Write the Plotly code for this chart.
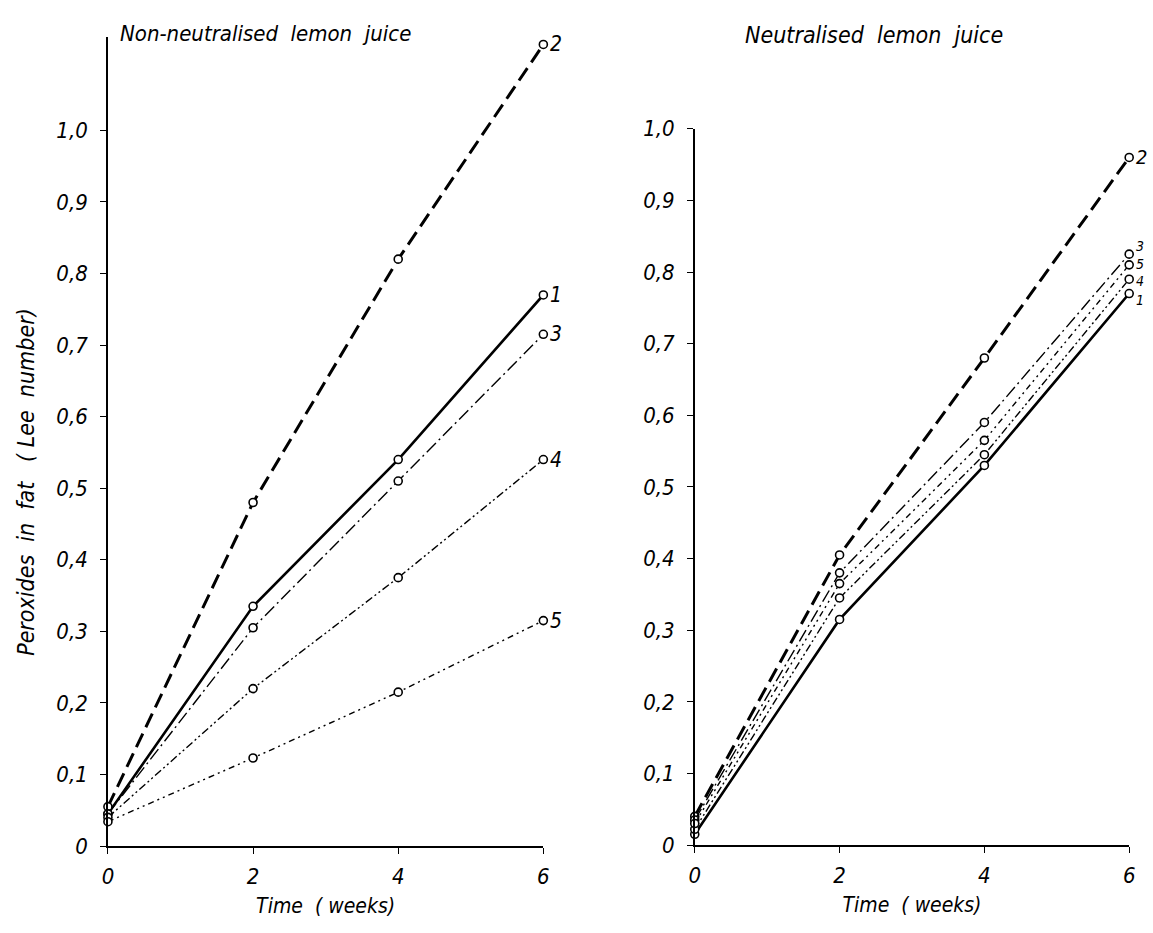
import plotly.graph_objects as go

weeks = [0, 2, 4, 6]

# Non-neutralised lemon juice (left panel)
left_1 = [0.045, 0.335, 0.54, 0.77]
left_2 = [0.055, 0.48, 0.82, 1.12]
left_3 = [0.045, 0.305, 0.51, 0.715]
left_4 = [0.04, 0.22, 0.375, 0.54]
left_5 = [0.034, 0.123, 0.215, 0.315]

# Neutralised lemon juice (right panel)
right_1 = [0.015, 0.315, 0.53, 0.77]
right_2 = [0.04, 0.405, 0.68, 0.96]
right_3 = [0.035, 0.38, 0.59, 0.825]
right_4 = [0.022, 0.345, 0.545, 0.79]
right_5 = [0.03, 0.365, 0.565, 0.81]

series_names = ["1", "2", "3", "4", "5"]

y_tickvals = [0, 0.1, 0.2, 0.3, 0.4, 0.5, 0.6, 0.7, 0.8, 0.9, 1.0]
y_ticktext = ["0", "0,1", "0,2", "0,3", "0,4", "0,5", "0,6", "0,7", "0,8", "0,9", "1,0"]
x_tickvals = [0, 2, 4, 6]
x_ticktext = ["0", "2", "4", "6"]

FONT = "DejaVu Sans Condensed, Liberation Sans Narrow, Arial Narrow, sans-serif"

styles = {
    "1": dict(width=2.6, dash="solid"),
    "2": dict(width=3.0, dash="15px,7px"),
    "3": dict(width=1.4, dash="13px,4px,2px,4px"),
    "4": dict(width=1.4, dash="8px,3px,2px,3px,2px,3px"),
    "5": dict(width=1.4, dash="6px,4px,2px,4px,2px,4px"),
}

# label sizes and vertical nudges (pixels) for the crowded end labels of the right panel
right_label_size = {"1": 14, "2": 20, "3": 14, "4": 14, "5": 14}
right_label_shift = {"1": -6, "2": 0, "3": 8, "4": -2, "5": 1}

fig = go.Figure()
annotations = []

def add_series(values, name, xa, ya, label_size, yshift):
    fig.add_trace(go.Scatter(
        x=weeks, y=values, mode="lines+markers",
        line=dict(color="black", **styles[name]),
        marker=dict(symbol="circle", size=8, color="white",
                    line=dict(color="black", width=1.6)),
        cliponaxis=False, showlegend=False, xaxis=xa, yaxis=ya,
    ))
    annotations.append(dict(
        text=name, x=weeks[-1], y=values[-1], xref=xa, yref=ya,
        xanchor="left", yanchor="middle", xshift=6, yshift=yshift, showarrow=False,
        borderpad=0,
        font=dict(family=FONT, size=label_size, color="black", style="italic"),
    ))

left = [left_1, left_2, left_3, left_4, left_5]
right = [right_1, right_2, right_3, right_4, right_5]
for vals, nm in zip(left, series_names):
    add_series(vals, nm, "x", "y", 21, 0)
for vals, nm in zip(right, series_names):
    add_series(vals, nm, "x2", "y2", right_label_size[nm], right_label_shift[nm])

W, H = 1153, 933
def px_x(p): return p / W
def px_y(p): return 1 - p / H

tickfont = dict(family=FONT, size=22, color="black", style="italic")
axis_common = dict(
    showline=True, linecolor="black", linewidth=1.5, mirror=False,
    ticks="outside", ticklen=6, tickwidth=1.2, tickcolor="black",
    showgrid=False, zeroline=False, tickfont=tickfont,
)
xtitle_font = dict(family=FONT, size=21, color="black", style="italic")

fig.update_layout(
    width=W, height=H,
    margin=dict(l=0, r=0, t=0, b=0),
    paper_bgcolor="white", plot_bgcolor="white",
    xaxis=dict(domain=[px_x(103), px_x(543)], range=[0, 6], anchor="y",
               tickvals=x_tickvals, ticktext=x_ticktext, ticklabelstandoff=4,
               title=dict(text="Time  ( weeks)", standoff=10, font=xtitle_font),
               **axis_common),
    yaxis=dict(domain=[px_y(857), px_y(26)], range=[0, 1.13], anchor="x",
               tickvals=y_tickvals, ticktext=y_ticktext, ticklabelstandoff=8,
               **axis_common),
    xaxis2=dict(domain=[px_x(696), px_x(1135)], range=[0, 6], anchor="y2",
                tickvals=x_tickvals, ticktext=x_ticktext, ticklabelstandoff=4,
                title=dict(text="Time  ( weeks)", standoff=10, font=xtitle_font),
                **axis_common),
    yaxis2=dict(domain=[px_y(856), px_y(120)], range=[0, 1.0], anchor="x2",
                tickvals=y_tickvals, ticktext=y_ticktext, ticklabelstandoff=8,
                **axis_common),
)

annotations += [
    dict(text="Non-neutralised  lemon  juice", xref="paper", yref="paper",
         x=px_x(113), y=px_y(22), xanchor="left", yanchor="middle", showarrow=False,
         font=dict(family=FONT, size=22, color="black", style="italic")),
    dict(text="Neutralised  lemon  juice", xref="paper", yref="paper",
         x=px_x(745), y=px_y(24), xanchor="left", yanchor="middle", showarrow=False,
         font=dict(family=FONT, size=23, color="black", style="italic")),
    dict(text="Peroxides  in  fat   ( Lee  number)", xref="paper", yref="paper",
         x=px_x(20), y=px_y(483), xanchor="center", yanchor="middle", textangle=-90,
         showarrow=False,
         font=dict(family=FONT, size=23, color="black", style="italic")),
]
fig.update_layout(annotations=annotations)

fig.write_html(
    "out.html",
    config={"displayModeBar": False},
    post_script="document.body.style.margin='0';document.body.style.overflow='hidden';",
)
